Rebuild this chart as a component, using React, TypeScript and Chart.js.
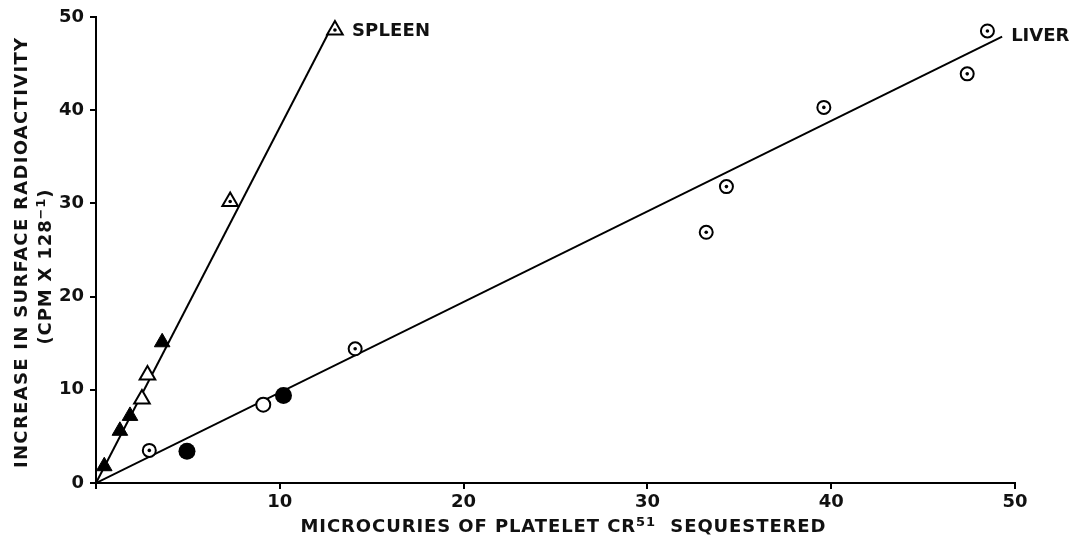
import React, { useEffect, useRef } from 'react';
import { Chart, registerables } from 'chart.js';

Chart.register(...registerables);

// ---- Data ----
const xTicks = [0, 10, 20, 30, 40, 50];
const yTicks = [0, 10, 20, 30, 40, 50];

// Spleen
const spleenFilledX = [0.45, 1.3, 1.85, 3.6];
const spleenFilledY = [1.8, 5.6, 7.2, 15.1];
const spleenOpenX = [2.5, 2.8];
const spleenOpenY = [9.0, 11.6];
const spleenDotX = [7.3, 13.0];
const spleenDotY = [30.2, 48.6];
const spleenLineX = [0, 12.6];
const spleenLineY = [0, 48.1];

// Liver
const liverDotX = [2.9, 14.1, 33.2, 34.3, 39.6, 47.4, 48.5];
const liverDotY = [3.5, 14.4, 26.9, 31.8, 40.3, 43.9, 48.5];
const liverFilledX = [4.95, 10.2];
const liverFilledY = [3.4, 9.4];
const liverOpenX = [9.1];
const liverOpenY = [8.4];
const liverLineX = [0, 49.3];
const liverLineY = [0, 47.9];

const xTitleMain = 'MICROCURIES OF PLATELET CR';
const xTitleSup = '51';
const xTitleEnd = '  SEQUESTERED';
const yTitle1 = 'INCREASE IN SURFACE RADIOACTIVITY';
const yTitle2Main = '(CPM X 128';
const yTitle2Sup = '\u22121';
const yTitle2End = ')';
const spleenLabel = 'SPLEEN';
const liverLabel = 'LIVER';

const pts = (xs: number[], ys: number[]) => xs.map((x, i) => ({ x, y: ys[i] }));

const FONT = '"DejaVu Sans", "Liberation Sans", sans-serif';
const INK = '#111';

type Run = { text: string; size: number; dy: number };

function drawRuns(ctx: CanvasRenderingContext2D, runs: Run[], cx: number, baseline: number, target: number) {
  let natural = 0;
  let chars = 0;
  (ctx as any).letterSpacing = '0px';
  for (const r of runs) {
    ctx.font = `bold ${r.size}px ${FONT}`;
    natural += ctx.measureText(r.text).width;
    chars += r.text.length;
  }
  const ls = Math.max(0, (target - natural) / Math.max(1, chars - 1));
  let x = cx - target / 2;
  runs.forEach((r) => {
    ctx.font = `bold ${r.size}px ${FONT}`;
    (ctx as any).letterSpacing = `${ls}px`;
    ctx.fillText(r.text, x, baseline + r.dy);
    x += ctx.measureText(r.text).width;
  });
  (ctx as any).letterSpacing = '0px';
}

const textPlugin = {
  id: 'figureTexts',
  afterDraw(chart: any) {
    const ctx: CanvasRenderingContext2D = chart.ctx;
    const xs = chart.scales.x;
    const ys = chart.scales.y;
    ctx.save();
    ctx.fillStyle = INK;
    ctx.textAlign = 'left';
    ctx.textBaseline = 'alphabetic';

    // X-axis title
    drawRuns(
      ctx,
      [
        { text: xTitleMain, size: 18, dy: 0 },
        { text: xTitleSup, size: 13, dy: -6 },
        { text: xTitleEnd, size: 18, dy: 0 },
      ],
      563,
      532,
      525
    );

    // Y-axis title (two lines, rotated)
    ctx.save();
    ctx.translate(27, 253);
    ctx.rotate(-Math.PI / 2);
    drawRuns(ctx, [{ text: yTitle1, size: 18, dy: 0 }], 0, 0, 430);
    ctx.restore();

    ctx.save();
    ctx.translate(51, 267);
    ctx.rotate(-Math.PI / 2);
    drawRuns(
      ctx,
      [
        { text: yTitle2Main, size: 18, dy: 0 },
        { text: yTitle2Sup, size: 13, dy: -6 },
        { text: yTitle2End, size: 18, dy: 0 },
      ],
      0,
      0,
      155
    );
    ctx.restore();

    // Series labels
    ctx.textBaseline = 'middle';
    const sx = xs.getPixelForValue(spleenDotX[spleenDotX.length - 1]);
    const sy = ys.getPixelForValue(spleenDotY[spleenDotY.length - 1]);
    drawRuns(ctx, [{ text: spleenLabel, size: 18, dy: 0 }], sx + 17 + 39, sy + 1, 78);

    const lx = xs.getPixelForValue(liverLineX[liverLineX.length - 1]);
    const ly = ys.getPixelForValue(liverLineY[liverLineY.length - 1]);
    drawRuns(ctx, [{ text: liverLabel, size: 18, dy: 0 }], lx + 9 + 29, ly + 0, 58);

    ctx.restore();
  },
};

export default function App() {
  const ref = useRef<HTMLCanvasElement | null>(null);

  useEffect(() => {
    if (!ref.current) return;
    const black = '#000';
    const chart = new Chart(ref.current, {
      type: 'scatter',
      data: {
        datasets: [
          // dots inside markers (on top)
          {
            data: [...pts(spleenDotX, spleenDotY), ...pts(liverDotX, liverDotY)],
            pointStyle: 'circle',
            pointRadius: 1.8,
            backgroundColor: black,
            borderColor: black,
            borderWidth: 0,
            order: 0,
          },
          {
            data: pts(spleenFilledX, spleenFilledY),
            pointStyle: 'triangle',
            pointRadius: 9,
            backgroundColor: black,
            borderColor: black,
            borderWidth: 1,
            order: 1,
          },
          {
            data: [...pts(spleenOpenX, spleenOpenY), ...pts(spleenDotX, spleenDotY)],
            pointStyle: 'triangle',
            pointRadius: 9,
            backgroundColor: '#fff',
            borderColor: black,
            borderWidth: 2,
            order: 1,
          },
          {
            data: pts(liverDotX, liverDotY),
            pointStyle: 'circle',
            pointRadius: 6.5,
            backgroundColor: '#fff',
            borderColor: black,
            borderWidth: 2,
            order: 1,
          },
          {
            data: pts(liverFilledX, liverFilledY),
            pointStyle: 'circle',
            pointRadius: 8.5,
            backgroundColor: black,
            borderColor: black,
            borderWidth: 0,
            order: 1,
          },
          {
            data: pts(liverOpenX, liverOpenY),
            pointStyle: 'circle',
            pointRadius: 7,
            backgroundColor: '#fff',
            borderColor: black,
            borderWidth: 2,
            order: 1,
          },
          {
            data: pts(spleenLineX, spleenLineY),
            showLine: true,
            pointRadius: 0,
            borderColor: black,
            borderWidth: 2,
            order: 5,
          },
          {
            data: pts(liverLineX, liverLineY),
            showLine: true,
            pointRadius: 0,
            borderColor: black,
            borderWidth: 2,
            order: 5,
          },
        ] as any,
      },
      options: {
        responsive: false,
        animation: false,
        events: [],
        layout: { padding: { left: 0, top: 17, right: 61, bottom: 0 } },
        plugins: {
          legend: { display: false },
          tooltip: { enabled: false },
          title: { display: false },
        },
        scales: {
          x: {
            type: 'linear',
            min: 0,
            max: 50,
            afterBuildTicks: (s: any) => {
              s.ticks = xTicks.map((v) => ({ value: v }));
            },
            afterFit: (s: any) => {
              s.height = 59;
            },
            ticks: {
              color: INK,
              font: { family: FONT, size: 18, weight: 'bold' },
              padding: 3,
              maxRotation: 0,
              autoSkip: false,
              callback: (v: any) => (v === 0 ? '' : String(v)),
            },
            grid: {
              display: true,
              drawOnChartArea: false,
              drawTicks: true,
              tickLength: 6,
              color: black,
              lineWidth: 2,
            },
            border: { display: true, color: black, width: 2 },
          },
          y: {
            type: 'linear',
            min: 0,
            max: 50,
            afterBuildTicks: (s: any) => {
              s.ticks = yTicks.map((v) => ({ value: v }));
            },
            afterFit: (s: any) => {
              s.width = 96;
            },
            ticks: {
              color: INK,
              font: { family: FONT, size: 18, weight: 'bold' },
              padding: 6,
              autoSkip: false,
              callback: (v: any) => String(v),
            },
            grid: {
              display: true,
              drawOnChartArea: false,
              drawTicks: true,
              tickLength: 6,
              color: black,
              lineWidth: 2,
            },
            border: { display: true, color: black, width: 2 },
          },
        },
      } as any,
      plugins: [textPlugin as any],
    });
    return () => chart.destroy();
  }, []);

  return (
    <div style={{ position: 'fixed', left: 0, top: 0, width: 1076, height: 542, background: '#fff' }}>
      <canvas ref={ref} width={1076} height={542} style={{ width: 1076, height: 542, display: 'block' }} />
    </div>
  );
}
